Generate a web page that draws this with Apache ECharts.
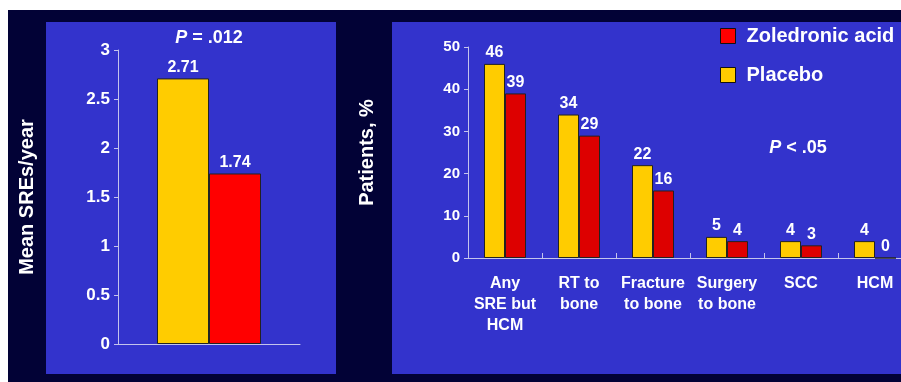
<!DOCTYPE html>
<html>
<head>
<meta charset="utf-8">
<script src="https://cdn.jsdelivr.net/npm/echarts@6/dist/echarts.min.js"></script>
<style>
  html, body { margin: 0; padding: 0; background: #ffffff; }
  #chart { width: 901px; height: 382px; }
</style>
</head>
<body>
<div id="chart"></div>
<script>
// Mean skeletal-related events per year
const rateCategories = [''];
const ratePlacebo = [2.71];
const rateZoledronic = [1.74];
const rateTicks = [0, 0.5, 1, 1.5, 2, 2.5, 3];

// Patients with each event type, %
const eventCategories = ['Any\nSRE but\nHCM', 'RT to\nbone', 'Fracture\nto bone', 'Surgery\nto bone', 'SCC', 'HCM'];
const eventPlacebo = [46, 34, 22, 5, 4, 4];
const eventZoledronic = [39, 29, 16, 4, 3, 0];
const eventTicks = [0, 10, 20, 30, 40, 50];

const FONT = '"Liberation Sans", Arial, sans-serif';
const AXIS_COLOR = '#c4c4ec';
const YELLOW = '#ffcc00';
const RED_LEFT = '#ff0000';
const RED_RIGHT = '#dd0000';

const chart = echarts.init(document.getElementById('chart'), null, { renderer: 'canvas' });

const valueLabel = (fmt) => ({
  show: true,
  position: 'top',
  distance: 3,
  color: '#ffffff',
  fontFamily: FONT,
  fontWeight: 'bold',
  fontSize: 16,
  formatter: fmt
});

const yAxisBase = (ticks, name, gap, labelSize) => ({
  type: 'value',
  min: ticks[0],
  max: ticks[ticks.length - 1],
  interval: ticks[1] - ticks[0],
  name: name,
  nameLocation: 'middle',
  nameRotate: 90,
  nameGap: gap,
  nameTextStyle: { color: '#ffffff', fontFamily: FONT, fontWeight: 'bold', fontSize: 20 },
  axisLine: { show: true, lineStyle: { color: AXIS_COLOR, width: 1 } },
  axisTick: { show: true, length: 4, lineStyle: { color: AXIS_COLOR } },
  axisLabel: { color: '#ffffff', fontFamily: FONT, fontWeight: 'bold', fontSize: labelSize, margin: 8 },
  splitLine: { show: false }
});

const pTitle = (text, x, y) => ({
  text: text,
  left: x, top: y, textAlign: 'center',
  textStyle: {
    color: '#ffffff', fontFamily: FONT, fontWeight: 'bold', fontSize: 18,
    rich: { i: { color: '#ffffff', fontFamily: FONT, fontWeight: 'bold', fontStyle: 'italic', fontSize: 18 } }
  }
});

const option = {
  backgroundColor: '#ffffff',
  animation: false,
  graphic: [
    { type: 'rect', z: -10, shape: { x: 8, y: 10, width: 893, height: 372 }, style: { fill: '#020236' }, silent: true },
    { type: 'rect', z: -9, shape: { x: 46, y: 22, width: 290, height: 352 }, style: { fill: '#3333cc' }, silent: true },
    { type: 'rect', z: -9, shape: { x: 392, y: 22, width: 509, height: 352 }, style: { fill: '#3333cc' }, silent: true }
  ],
  title: [
    pTitle('{i|P} = .012', 204, 24),
    pTitle('{i|P} < .05', 793, 134)
  ],
  legend: {
    data: ['Zoledronic acid', 'Placebo'],
    orient: 'vertical',
    left: 715, top: 21,
    itemWidth: 15, itemHeight: 15, itemGap: 19,
    icon: 'rect',
    itemStyle: { borderColor: '#111111', borderWidth: 1 },
    textStyle: { color: '#ffffff', fontFamily: FONT, fontWeight: 'bold', fontSize: 20, padding: [0, 0, 0, 6] }
  },
  grid: [
    { left: 118, top: 50, width: 182, height: 294, outerBoundsMode: 'none' },
    { left: 468, top: 47, width: 444, height: 211, outerBoundsMode: 'none' }
  ],
  xAxis: [
    {
      gridIndex: 0, type: 'category', data: rateCategories,
      axisLine: { show: true, lineStyle: { color: AXIS_COLOR } },
      axisTick: { show: false },
      axisLabel: { show: false }
    },
    {
      gridIndex: 1, type: 'category', data: eventCategories,
      axisLine: { show: true, lineStyle: { color: AXIS_COLOR } },
      axisTick: { show: true, inside: true, length: 5, lineStyle: { color: AXIS_COLOR } },
      axisLabel: {
        interval: 0, color: '#ffffff', fontFamily: FONT, fontWeight: 'bold',
        fontSize: 16, lineHeight: 21, margin: 15
      }
    }
  ],
  yAxis: [
    Object.assign({ gridIndex: 0 }, yAxisBase(rateTicks, 'Mean SREs/year', 81, 17)),
    Object.assign({ gridIndex: 1 }, yAxisBase(eventTicks, 'Patients, %', 91, 15))
  ],
  series: [
    {
      name: 'Placebo', type: 'bar', xAxisIndex: 0, yAxisIndex: 0,
      data: ratePlacebo, barWidth: 52, barGap: '0%',
      itemStyle: { color: YELLOW, borderColor: '#222222', borderWidth: 1 },
      label: valueLabel((p) => p.value.toFixed(2))
    },
    {
      name: 'Zoledronic acid', type: 'bar', xAxisIndex: 0, yAxisIndex: 0,
      data: rateZoledronic, barWidth: 52, barGap: '0%',
      itemStyle: { color: RED_LEFT, borderColor: '#222222', borderWidth: 1 },
      label: valueLabel((p) => p.value.toFixed(2))
    },
    {
      name: 'Placebo', type: 'bar', xAxisIndex: 1, yAxisIndex: 1,
      data: eventPlacebo, barWidth: 21, barGap: '0%',
      itemStyle: { color: YELLOW, borderColor: '#222222', borderWidth: 1 },
      label: valueLabel('{c}')
    },
    {
      name: 'Zoledronic acid', type: 'bar', xAxisIndex: 1, yAxisIndex: 1,
      data: eventZoledronic, barWidth: 21, barGap: '0%',
      itemStyle: { color: RED_RIGHT, borderColor: '#222222', borderWidth: 1 },
      label: valueLabel('{c}')
    }
  ]
};

chart.setOption(option);
</script>
</body>
</html>
